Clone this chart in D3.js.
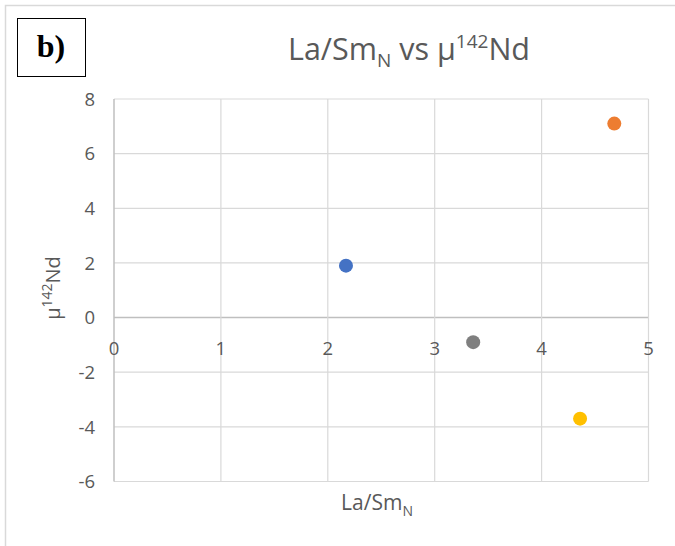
<!DOCTYPE html>
<html>
<head>
<meta charset="utf-8">
<script src="https://cdn.jsdelivr.net/npm/d3@7"></script>
<style>
  body { margin: 0; background: #fff; }
  text { font-family: "Open Sans", "Noto Sans", sans-serif; fill: #595959; }
</style>
</head>
<body>
<div id="chart"></div>
<script>
// La/Sm_N values, one point per sample
const laSm = [2.17, 4.68, 3.36, 4.36];
// mu142Nd values
const mu142 = [1.9, 7.1, -0.9, -3.7];
const pointColors = ["#4472c4", "#ed7d31", "#7f7f7f", "#ffc000"];
const xTicks = [0, 1, 2, 3, 4, 5];
const yTicks = [-6, -4, -2, 0, 2, 4, 6, 8];

const w = 675, h = 546;
const svg = d3.select("#chart").append("svg")
  .attr("width", w).attr("height", h);

// outer chart frame (cropped at right and bottom)
svg.append("rect")
  .attr("x", 5.5).attr("y", 5.5)
  .attr("width", w + 10).attr("height", h + 10)
  .attr("fill", "#fff").attr("stroke", "#d9d9d9").attr("stroke-width", 1.5);

const x = d3.scaleLinear().domain([0, 5]).range([114, 648.5]);
const y = d3.scaleLinear().domain([-6, 8]).range([481.5, 99]);

// gridlines
svg.append("g").selectAll("line").data(yTicks).join("line")
  .attr("x1", x(0)).attr("x2", x(5))
  .attr("y1", d => y(d)).attr("y2", d => y(d))
  .attr("stroke", d => d === 0 ? "#bfbfbf" : "#d9d9d9")
  .attr("stroke-width", d => d === 0 ? 1.5 : 1.2);

svg.append("g").selectAll("line").data(xTicks).join("line")
  .attr("y1", y(-6)).attr("y2", y(8))
  .attr("x1", d => x(d)).attr("x2", d => x(d))
  .attr("stroke", d => d === 0 ? "#bfbfbf" : "#d9d9d9")
  .attr("stroke-width", d => d === 0 ? 1.5 : 1.2);

// tick labels
svg.append("g").selectAll("text").data(yTicks).join("text")
  .attr("x", 95).attr("y", d => y(d))
  .attr("dy", "0.36em")
  .attr("text-anchor", "end")
  .attr("font-size", 18.5)
  .text(d => d);

svg.append("g").selectAll("text").data(xTicks).join("text")
  .attr("x", d => x(d)).attr("y", y(0) + 37)
  .attr("text-anchor", "middle")
  .attr("font-size", 18.5)
  .text(d => d);

// points
svg.append("g").selectAll("circle").data(laSm).join("circle")
  .attr("cx", d => x(d))
  .attr("cy", (d, i) => y(mu142[i]))
  .attr("r", 7)
  .attr("fill", (d, i) => pointColors[i]);

// title
const title = svg.append("text")
  .attr("x", 409).attr("y", 60)
  .attr("text-anchor", "middle")
  .attr("font-size", 30.5);
title.append("tspan").text("La/Sm");
title.append("tspan").attr("font-size", 19).attr("dy", 7).text("N");
title.append("tspan").attr("dy", -7).text(" vs μ");
title.append("tspan").attr("font-size", 19).attr("dy", -12).text("142");
title.append("tspan").attr("dy", 12).text("Nd");

// x axis title
const xt = svg.append("text")
  .attr("x", 377).attr("y", 510)
  .attr("text-anchor", "middle")
  .attr("font-size", 21);
xt.append("tspan").text("La/Sm");
xt.append("tspan").attr("font-size", 14).attr("dy", 6).text("N");

// y axis title
const yt = svg.append("text")
  .attr("transform", "translate(60,288) rotate(-90)")
  .attr("text-anchor", "middle")
  .attr("font-size", 20);
yt.append("tspan").text("μ");
yt.append("tspan").attr("font-size", 14).attr("dy", -8).text("142");
yt.append("tspan").attr("dy", 8).text("Nd");

// panel label box
svg.append("rect")
  .attr("x", 17.5).attr("y", 18.5)
  .attr("width", 68).attr("height", 58)
  .attr("fill", "#fff").attr("stroke", "#000").attr("stroke-width", 1);
svg.append("text")
  .attr("x", 51).attr("y", 57)
  .attr("text-anchor", "middle")
  .attr("font-weight", "bold")
  .attr("font-size", 32)
  .style("fill", "#000")
  .style("font-family", "'Liberation Serif', serif")
  .text("b)");
</script>
</body>
</html>
